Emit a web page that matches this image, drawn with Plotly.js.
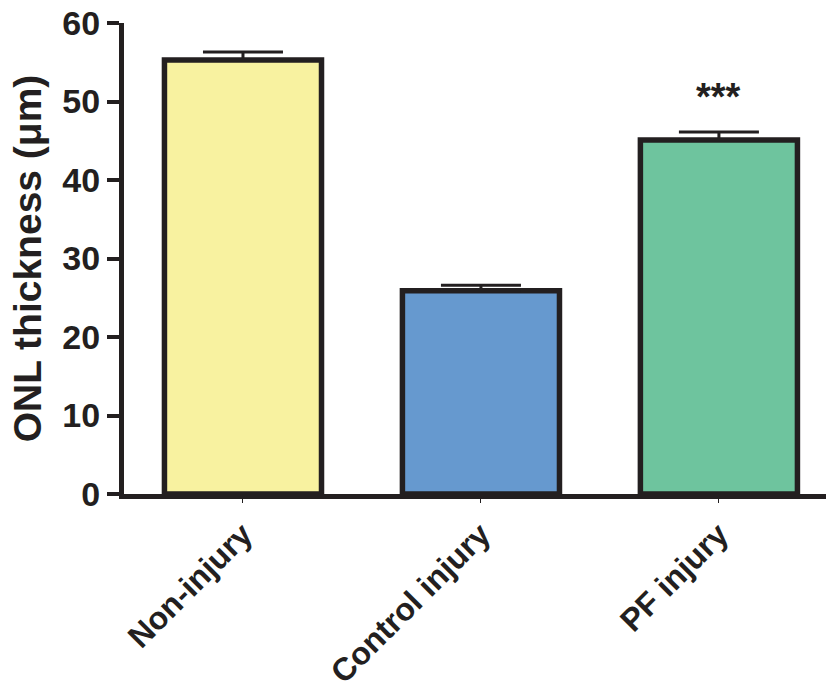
<!DOCTYPE html>
<html>
<head>
<meta charset="utf-8">
<script src="https://cdn.plot.ly/plotly-3.0.1.min.js"></script>
<style>html,body{margin:0;padding:0;background:#fff;}#chart{width:826px;height:698px;}</style>
</head>
<body>
<div id="chart"></div>
<script>
const categories = ["Non-injury", "Control injury", "PF injury"];
const means = [55.3, 25.9, 45.1];
const sems = [1.0, 0.7, 1.0];
const colors = ["#F8F2A0", "#6699CF", "#6EC49E"];
const yTicks = [0, 10, 20, 30, 40, 50, 60];
const significance = ["", "", "***"];
const sigY = [null, null, 50.6];

const dark = "#231F20";
const font = "Liberation Sans, Arial, sans-serif";

const trace = {
  type: "bar",
  x: categories,
  y: means,
  width: 0.66,
  marker: {color: colors, line: {color: dark, width: 5.5}},
  error_y: {type: "data", array: sems, arrayminus: sems.map(() => 0), symmetric: false,
            color: dark, thickness: 3, width: 40},
  hoverinfo: "none"
};

const annotations = [];
categories.forEach((c, i) => {
  if (significance[i]) {
    annotations.push({x: c, y: sigY[i], text: "<b>" + significance[i] + "</b>", showarrow: false,
      font: {family: font, size: 38, color: dark}, yanchor: "middle"});
  }
});

const layout = {
  width: 826, height: 698,
  margin: {l: 124, r: 0, t: 23, b: 204},
  paper_bgcolor: "#fff", plot_bgcolor: "#fff",
  showlegend: false,
  xaxis: {
    range: [-0.5, 2.45], showline: true, linecolor: dark, linewidth: 5,
    ticks: "outside", ticklen: 4, tickwidth: 1, tickcolor: dark,
    tickangle: -45, tickfont: {family: font, size: 32, color: dark, weight: "bold"},
    showgrid: false, zeroline: false, fixedrange: true
  },
  yaxis: {
    range: [0, 60], tickvals: yTicks, ticktext: yTicks.map(String),
    showline: true, linecolor: dark, linewidth: 5,
    ticks: "outside", ticklen: 12, tickwidth: 4, tickcolor: dark,
    tickfont: {family: font, size: 34, color: dark, weight: "bold"},
    title: {text: "ONL thickness (μm)", font: {family: font, size: 39, color: dark, weight: "bold"}, standoff: 10},
    showgrid: false, zeroline: false, fixedrange: true
  },
  annotations: annotations
};

Plotly.newPlot("chart", [trace], layout, {displayModeBar: false, staticPlot: true});
</script>
</body>
</html>
